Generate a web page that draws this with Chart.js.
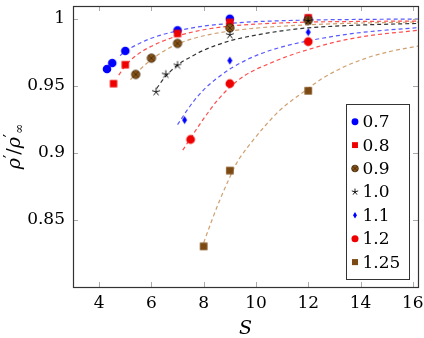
<!DOCTYPE html>
<html>
<head>
<meta charset="utf-8">
<script src="https://cdn.jsdelivr.net/npm/chart.js"></script>
<style>
html, body { margin: 0; padding: 0; background: #fff; }
</style>
</head>
<body>
<canvas id="chart" width="424" height="338"></canvas>
<script>
// axis ticks
const xTicks = [4, 6, 8, 10, 12, 14, 16];
const yTicks = [0.85, 0.9, 0.95, 1];

// series names (legend)
const seriesNames = ['0.7', '0.8', '0.9', '1.0', '1.1', '1.2', '1.25'];

const s07 = [4.3, 4.5, 5, 7, 9, 12];
const v07 = [0.9625, 0.967, 0.976, 0.9914, 1.0, 1.0];
const s08 = [4.55, 5, 7, 9, 12];
const v08 = [0.9516, 0.9657, 0.989, 0.9973, 1.0007];
const s09 = [5.4, 6, 7, 9, 12];
const v09 = [0.9585, 0.9706, 0.9816, 0.9931, 0.9988];
const s10 = [6.18, 6.55, 7, 9, 12];
const v10 = [0.9455, 0.9585, 0.9653, 0.988, 0.9983];
const s11 = [7.27, 9, 12];
const v11 = [0.9245, 0.9688, 0.99];
const s12 = [7.5, 9, 12];
const v12 = [0.91, 0.9516, 0.9829];
const s125 = [8, 9, 12];
const v125 = [0.8303, 0.8868, 0.9463];

// dashed fit curves
const fitS07 = [4.8, 5, 5.5, 6, 7, 8, 9, 10, 12, 14, 16.2];
const fitV07 = [0.9725, 0.9757, 0.9812, 0.9855, 0.991, 0.9945, 0.9965, 0.9978, 0.999, 0.9995, 0.9998];
const fitS08 = [4.75, 5, 5.5, 6, 6.5, 7, 8, 9, 10, 12, 14, 16.2];
const fitV08 = [0.958, 0.965, 0.9738, 0.9795, 0.9838, 0.9872, 0.9918, 0.9945, 0.996, 0.9975, 0.998, 0.9983];
const fitS09 = [5.2, 5.5, 6, 6.5, 7, 8, 9, 10, 12, 14, 16.2];
const fitV09 = [0.9546, 0.961, 0.9695, 0.9762, 0.9812, 0.9873, 0.9908, 0.993, 0.9955, 0.9968, 0.9975];
const fitS10 = [6.2, 6.5, 7, 7.5, 8, 9, 10, 11, 12, 14, 16.2];
const fitV10 = [0.948, 0.956, 0.9655, 0.9715, 0.9765, 0.9835, 0.9878, 0.991, 0.9932, 0.9953, 0.9965];
const fitS11 = [7.0, 7.5, 8, 8.5, 9, 10, 11, 12, 13, 14, 16.2];
const fitV11 = [0.921, 0.9355, 0.947, 0.9555, 0.9625, 0.9725, 0.979, 0.9835, 0.987, 0.9897, 0.9934];
const fitS12 = [7.2, 7.5, 8, 8.5, 9, 9.6, 10.5, 11.5, 12, 13, 14.2, 16.2];
const fitV12 = [0.902, 0.911, 0.9255, 0.9385, 0.949, 0.958, 0.9665, 0.974, 0.977, 0.9825, 0.987, 0.9914];
const fitS125 = [8.0, 8.3, 8.6, 8.9, 9.25, 9.5, 9.75, 10.3, 10.9, 12, 12.5, 13.3, 14.2, 15.1, 16.2];
const fitV125 = [0.833, 0.849, 0.864, 0.8775, 0.892, 0.8995, 0.906, 0.919, 0.9315, 0.948, 0.955, 0.9635, 0.9705, 0.9755, 0.9796];

const BLUE = '#0000ff', RED = '#ee0000', BROWN = '#8a5518', BROWN2 = '#7b4a14';
const TAN = 'rgba(191,128,64,0.75)';

// marker painter, shared by points and legend
function paintMark(c, kind, color, x, y, r) {
  c.save();
  c.fillStyle = color;
  c.strokeStyle = color;
  c.beginPath();
  if (kind === 'circle') {
    c.arc(x, y, r, 0, Math.PI * 2);
    c.fill();
  } else if (kind === 'square') {
    const h = r * 0.88;
    c.fillRect(x - h, y - h, 2 * h, 2 * h);
  } else if (kind === 'otimes') {
    c.arc(x, y, r, 0, Math.PI * 2);
    c.fill();
    c.strokeStyle = '#3d2408';
    c.lineWidth = 0.8;
    c.stroke();
    c.beginPath();
    const d = r * 0.7;
    c.moveTo(x - d, y - d); c.lineTo(x + d, y + d);
    c.moveTo(x - d, y + d); c.lineTo(x + d, y - d);
    c.stroke();
  } else if (kind === 'star') {
    c.lineWidth = 0.9;
    for (let k = 0; k < 5; k++) {
      const a = -Math.PI / 2 + k * 2 * Math.PI / 5;
      c.moveTo(x, y);
      c.lineTo(x + r * Math.cos(a), y + r * Math.sin(a));
    }
    c.stroke();
  } else if (kind === 'diamond') {
    c.moveTo(x, y - r);
    c.lineTo(x + r * 0.62, y);
    c.lineTo(x, y + r);
    c.lineTo(x - r * 0.62, y);
    c.closePath();
    c.fill();
  }
  c.restore();
}

function markImage(kind, color, r) {
  const cv = document.createElement('canvas');
  const n = Math.ceil(2 * r + 3);
  cv.width = n; cv.height = n;
  paintMark(cv.getContext('2d'), kind, color, n / 2, n / 2, r);
  return cv;
}

const series = [
  { s: s07, v: v07, fs: fitS07, fv: fitV07, kind: 'circle', color: BLUE, r: 4.3, line: 'rgba(0,0,255,0.65)' },
  { s: s08, v: v08, fs: fitS08, fv: fitV08, kind: 'square', color: RED, r: 4.2, line: 'rgba(255,0,0,0.7)' },
  { s: s09, v: v09, fs: fitS09, fv: fitV09, kind: 'otimes', color: BROWN, r: 4.2, line: TAN },
  { s: s10, v: v10, fs: fitS10, fv: fitV10, kind: 'star', color: '#000', r: 4.2, line: 'rgba(0,0,0,0.8)' },
  { s: s11, v: v11, fs: fitS11, fv: fitV11, kind: 'diamond', color: BLUE, r: 4.0, line: 'rgba(0,0,255,0.65)' },
  { s: s12, v: v12, fs: fitS12, fv: fitV12, kind: 'circle', color: RED, r: 4.4, line: 'rgba(255,0,0,0.7)' },
  { s: s125, v: v125, fs: fitS125, fv: fitV125, kind: 'square', color: BROWN2, r: 4.3, line: TAN }
];

const datasets = [];
series.forEach((d, i) => {
  datasets.push({
    label: seriesNames[i],
    data: d.s.map((x, j) => ({ x: x, y: d.v[j] })),
    pointStyle: markImage(d.kind, d.color, d.r),
    pointRadius: 5,
    showLine: false,
    order: 10 - i
  });
});
series.forEach((d, i) => {
  datasets.push({
    label: 'fit ' + seriesNames[i],
    data: d.fs.map((x, j) => ({ x: x, y: d.fv[j] })),
    showLine: true,
    pointRadius: 0,
    borderColor: d.line,
    borderWidth: 1.2,
    borderDash: [4, 3],
    cubicInterpolationMode: 'monotone',
    order: 30
  });
});

// frame, inward ticks, legend box and axis titles
const framePlugin = {
  id: 'frame',
  afterDatasetsDraw(chart) {
    const c = chart.ctx;
    const a = chart.chartArea;
    const xs = chart.scales.x, ys = chart.scales.y;
    c.save();
    c.strokeStyle = '#aaa';
    c.lineWidth = 1;
    c.beginPath();
    xTicks.forEach(t => {
      const px = Math.round(xs.getPixelForValue(t)) + 0.5;
      c.moveTo(px, a.bottom); c.lineTo(px, a.bottom - 5);
      c.moveTo(px, a.top); c.lineTo(px, a.top + 5);
    });
    yTicks.forEach(t => {
      const py = Math.round(ys.getPixelForValue(t)) + 0.5;
      c.moveTo(a.left, py); c.lineTo(a.left + 5, py);
      c.moveTo(a.right, py); c.lineTo(a.right - 5, py);
    });
    c.stroke();
    c.strokeStyle = '#333';
    c.lineWidth = 1.2;
    c.strokeRect(Math.round(a.left) + 0.5, Math.round(a.top) + 0.5,
      Math.round(a.right - a.left), Math.round(a.bottom - a.top));

    // legend
    const lx = 346.5, ly = 104.5, lw = 63, lh = 175;
    c.fillStyle = '#fff';
    c.fillRect(lx, ly, lw, lh);
    c.strokeStyle = '#333';
    c.lineWidth = 1;
    c.strokeRect(lx, ly, lw, lh);
    c.font = '17px "DejaVu Serif"';
    c.textBaseline = 'middle';
    c.fillStyle = '#000';
    series.forEach((d, i) => {
      const y = 121.7 + i * 23.4;
      paintMark(c, d.kind, d.color, 355, y, d.r * 0.8);
      c.fillStyle = '#000';
      c.fillText(seriesNames[i], 362.5, y + 1);
    });

    // axis titles
    c.font = 'italic 19px "DejaVu Serif"';
    c.textAlign = 'center';
    c.fillText('S', (a.left + a.right) / 2, 329);

    c.translate(15, (a.top + a.bottom) / 2);
    c.rotate(-Math.PI / 2);
    c.textAlign = 'left';
    const parts = [
      ['ρ', 'italic 19px "DejaVu Serif"', 0],
      ['′', '15px "DejaVu Sans"', -4],
      ['/', '19px "DejaVu Serif"', 0],
      ['ρ', 'italic 19px "DejaVu Serif"', 0],
      ['′', '15px "DejaVu Sans"', -4],
      ['∞', '12px "DejaVu Serif"', 5]
    ];
    let total = 0;
    parts.forEach(p => { c.font = p[1]; total += c.measureText(p[0]).width; });
    let px = -total / 2;
    parts.forEach(p => {
      c.font = p[1];
      c.fillText(p[0], px, p[2]);
      px += c.measureText(p[0]).width;
    });
    c.restore();
  }
};

new Chart(document.getElementById('chart').getContext('2d'), {
  type: 'scatter',
  data: { datasets: datasets },
  options: {
    responsive: false,
    animation: false,
    layout: { padding: { top: 2, right: 5.5, left: 0, bottom: 0 } },
    plugins: { legend: { display: false }, tooltip: { enabled: false } },
    scales: {
      x: {
        type: 'linear', min: 3, max: 16.2,
        grid: { display: false, drawTicks: false },
        border: { display: false },
        afterBuildTicks: s => { s.ticks = xTicks.map(v => ({ value: v })); },
        afterFit: s => { s.height = 51; s.paddingLeft = 0; s.paddingRight = 0; },
        ticks: { padding: 6, color: '#000', autoSkip: false, maxRotation: 0,
          font: { family: 'DejaVu Serif', size: 17 } }
      },
      y: {
        type: 'linear', min: 0.8, max: 1.0095,
        grid: { display: false, drawTicks: false },
        border: { display: false },
        afterBuildTicks: s => { s.ticks = yTicks.map(v => ({ value: v })); },
        afterFit: s => { s.width = 73; s.paddingTop = 0; s.paddingBottom = 0; },
        ticks: { padding: 8, color: '#000', autoSkip: false,
          font: { family: 'DejaVu Serif', size: 17 },
          callback: v => String(v) }
      }
    }
  },
  plugins: [framePlugin]
});
</script>
</body>
</html>
